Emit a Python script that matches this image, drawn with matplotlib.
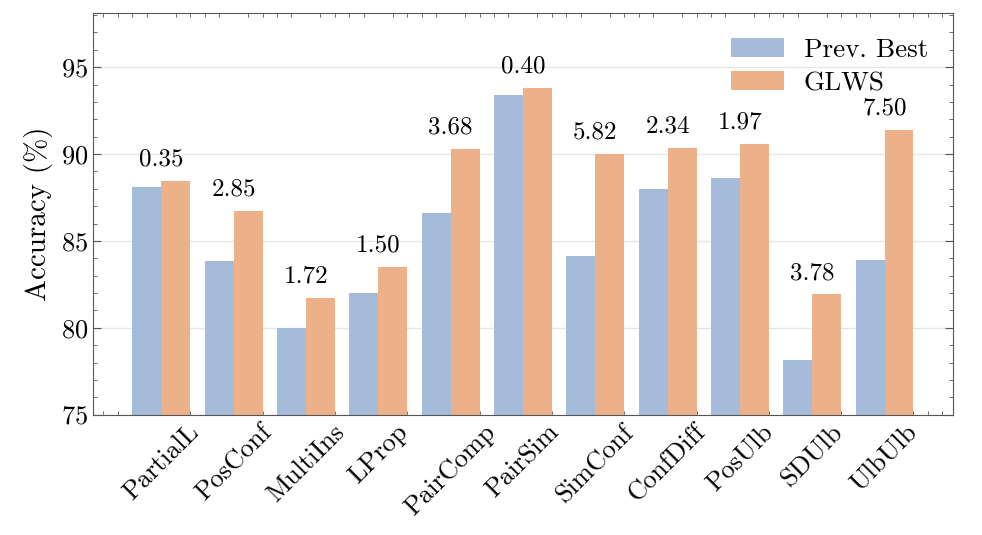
import matplotlib
matplotlib.use("Agg")
import matplotlib.pyplot as plt
import numpy as np
from matplotlib.ticker import AutoMinorLocator, MultipleLocator

plt.rcParams['font.family'] = ['cmr10', 'DejaVu Serif']
plt.rcParams['mathtext.fontset'] = 'cm'
plt.rcParams['axes.formatter.use_mathtext'] = True

methods = ['PartialL', 'PosConf', 'MultiIns', 'LProp', 'PairComp', 'PairSim',
           'SimConf', 'ConfDiff', 'PosUlb', 'SDUlb', 'UlbUlb']
prev_best = [88.12, 83.87, 80.00, 81.98, 86.59, 93.41, 84.16, 88.00, 88.62, 78.14, 83.90]
glws = [88.47, 86.72, 81.72, 83.48, 90.27, 93.81, 89.98, 90.34, 90.59, 81.92, 91.40]
gains = ['0.35', '2.85', '1.72', '1.50', '3.68', '0.40', '5.82', '2.34', '1.97', '3.78', '7.50']

x = np.arange(len(methods))
w = 0.4

fig, ax = plt.subplots(figsize=(9.82, 5.35), dpi=100)
fig.subplots_adjust(left=0.095, right=0.97, top=0.975, bottom=0.225)

ax.bar(x - w / 2, prev_best, w, color='#a4bbd9', label='Prev. Best', zorder=2)
ax.bar(x + w / 2, glws, w, color='#edb189', label='GLWS', zorder=2)

# gain labels above each group
for i in range(len(methods)):
    top = max(prev_best[i], glws[i])
    ax.text(x[i], top + 0.6, gains[i], ha='center', va='bottom', fontsize=18)

ax.set_ylim(75, 98.1)
ax.set_ylabel('Accuracy (%)', fontsize=21, labelpad=6)
ax.yaxis.set_major_locator(MultipleLocator(5))
ax.yaxis.set_minor_locator(MultipleLocator(1))
ax.xaxis.set_minor_locator(AutoMinorLocator(5))
ax.set_xticks(x)
ax.set_xticklabels(methods, rotation=45, ha='center', fontsize=19)
ax.tick_params(axis='y', labelsize=19)
ax.tick_params(which='both', direction='in', top=True, right=True, colors='#555555',
               labelcolor='black')
ax.tick_params(which='major', length=6)
ax.tick_params(which='minor', length=3)
ax.tick_params(axis='x', which='major', bottom=False, top=False, pad=4)
ax.grid(axis='y', color='#e6e6e6', linewidth=1, zorder=0)
for s in ax.spines.values():
    s.set_color('#555555')

ax.legend(loc='upper right', frameon=False, fontsize=19.5, handlelength=1.95,
          handleheight=0.7, labelspacing=0.35, handletextpad=0.75, borderaxespad=0.5)

plt.savefig('out.png')
